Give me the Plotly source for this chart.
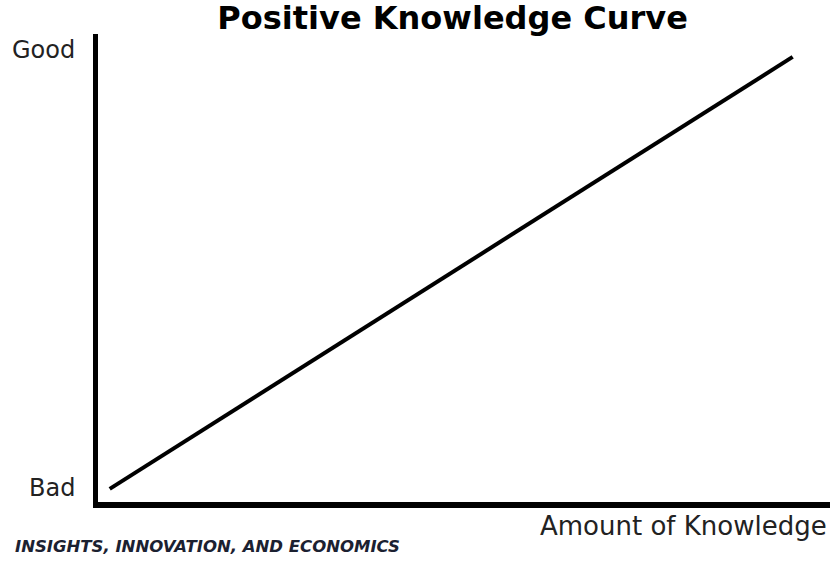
import plotly.graph_objects as go

# knowledge (x) vs outcome (y), both on a 0..1 scale
knowledge = [0.016, 0.949]
outcome = [0.028, 0.951]

y_labels = ['Bad', 'Good']
y_label_pos = [0.030, 0.966]

font_family = 'DejaVu Sans, sans-serif'

fig = go.Figure(
    data=go.Scatter(
        x=knowledge,
        y=outcome,
        mode='lines',
        line=dict(color='black', width=4),
        hoverinfo='skip'
    )
)

annotations = [
    dict(x=0, y=yp, xref='paper', yref='paper', text=lab, showarrow=False,
         xanchor='right', yanchor='middle', xshift=-21,
         font=dict(family=font_family, size=24, color='#222222'))
    for lab, yp in zip(y_labels, y_label_pos)
]
annotations += [
    dict(x=1, y=0, xref='paper', yref='paper', text='Amount of Knowledge',
         showarrow=False, xanchor='right', yanchor='top', xshift=-1, yshift=-7,
         font=dict(family=font_family, size=26, color='#222222')),
    dict(x=0, y=0, xref='paper', yref='paper',
         text='<b><i>INSIGHTS, INNOVATION, AND ECONOMICS</i></b>',
         showarrow=False, xanchor='left', yanchor='top', xshift=-85, yshift=-33,
         font=dict(family=font_family, size=16.5, color='#1b2131')),
]

fig.update_layout(
    width=832,
    height=562,
    margin=dict(l=98, r=2, t=34, b=60),
    paper_bgcolor='white',
    plot_bgcolor='white',
    showlegend=False,
    title=dict(
        text='<b>Positive Knowledge Curve</b>',
        x=0.544, xanchor='center', y=0.988, yanchor='top',
        font=dict(family=font_family, size=32, color='black')
    ),
    xaxis=dict(range=[0, 1], showgrid=False, zeroline=False, showticklabels=False,
               showline=True, linecolor='black', linewidth=6, ticks=''),
    yaxis=dict(range=[0, 1], showgrid=False, zeroline=False, showticklabels=False,
               showline=True, linecolor='black', linewidth=5, ticks=''),
    annotations=annotations
)

# drop the browser's default body margin so the 832x562 figure fills the window
fig.write_html('out.html', config={'displayModeBar': False},
               post_script="document.body.style.margin='0';document.body.style.overflow='hidden';")
